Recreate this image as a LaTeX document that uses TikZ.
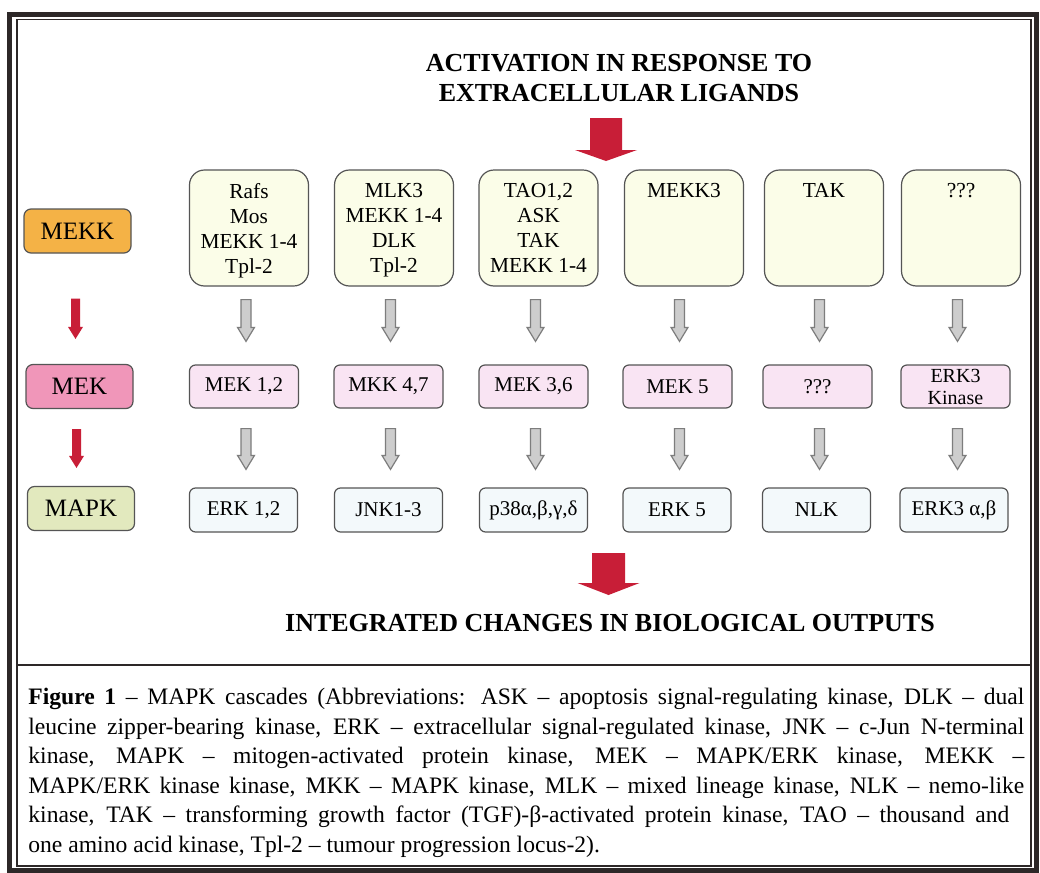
\documentclass[tikz,border=0pt]{standalone}
\usepackage{fontspec}
\setmainfont{Liberation Serif}
\usetikzlibrary{calc}
\definecolor{framec}{RGB}{45,40,40}
\definecolor{mekkc}{RGB}{244,178,70}
\definecolor{mekc}{RGB}{240,150,185}
\definecolor{mapkc}{RGB}{226,233,190}
\definecolor{topc}{RGB}{251,253,232}
\definecolor{midc}{RGB}{249,228,243}
\definecolor{botc}{RGB}{243,249,251}
\definecolor{boxline}{RGB}{85,85,85}
\definecolor{redc}{RGB}{200,30,55}
\definecolor{grayf}{RGB}{205,205,205}
\definecolor{grayl}{RGB}{125,125,125}
\newcommand\mkarrow[6]{%
  \path[#1] let \p1=(#2), \p2=(#3) in
    (\x1-#4,\y1) -- (\x1+#4,\y1) -- (\x1+#4,\y2+#6) -- (\x1+#5,\y2+#6)
    -- (\x1,\y2) -- (\x1-#5,\y2+#6) -- (\x1-#4,\y2+#6) -- cycle;}
\begin{document}
\begin{tikzpicture}[x=0.5pt,y=-0.5pt,
  topbox/.style={draw=boxline, fill=topc, rounded corners=7.5pt, minimum width=59.5pt, minimum height=58pt, line width=0.6pt, inner sep=0pt},
  toptext/.style={anchor=north, inner sep=0pt, align=center, font=\fontsize{10.7}{12.5}\selectfont},
  midbox/.style={draw=boxline, fill=midc, rounded corners=3pt, minimum width=54.5pt, minimum height=21.5pt, line width=0.6pt, font=\fontsize{10.5}{12}\selectfont, align=center, inner sep=1pt},
  botbox/.style={draw=boxline, fill=botc, rounded corners=3pt, minimum width=54pt, minimum height=22pt, line width=0.6pt, font=\fontsize{10.5}{12}\selectfont, align=center, inner sep=1pt},
  lab/.style={draw=boxline, rounded corners=3.5pt, minimum width=53.5pt, minimum height=22pt, font=\fontsize{12.5}{14}\selectfont, line width=0.6pt, inner sep=1pt},
  redarr/.style={fill=redc},
  grayarr/.style={fill=grayf, draw=grayl, line width=0.6pt},
  heading/.style={font=\bfseries\fontsize{13}{15}\selectfont, align=center, inner sep=0pt}
]
\useasboundingbox (0,0) rectangle (1040,873);
\fill[white] (0,0) rectangle (1040,873);
% frame
\draw[framec, line width=2.5pt] (9.5,14.5) rectangle (1036,870);
\draw[framec, line width=0.7pt] (17,19.5) rectangle (1031,866);
\draw[framec, line width=1.3pt] (17,665) -- (1031,665);

% title
\node[heading, anchor=north] (act) at (619,53.5) {ACTIVATION IN RESPONSE TO\\EXTRACELLULAR LIGANDS};
\coordinate (in1) at (606,118);
\coordinate (in2) at (606,161);
\mkarrow{redarr}{in1}{in2}{8pt}{15.5pt}{5.5pt}

% left labels
\node[lab, fill=mekkc] (mekk) at (77.5,231) {MEKK};
\node[lab, fill=mekc] (mek) at (79.5,386.5) {MEK};
\node[lab, fill=mapkc] (mapk) at (81,508.5) {MAPK};
\mkarrow{redarr}{$(mekk.south)+(-2,45)$}{$(mek.north)+(0,-25)$}{2.25pt}{3.75pt}{6pt}
\mkarrow{redarr}{$(mek.south)+(-3,20)$}{$(mapk.north)+(0,-18)$}{2.25pt}{3.75pt}{6pt}

% top row (MEKK)
\node[topbox] (t1) at (249,228) {};
\node[topbox] (t2) at (394,228) {};
\node[topbox] (t3) at (538.5,228) {};
\node[topbox] (t4) at (684,228) {};
\node[topbox] (t5) at (824,228) {};
\node[topbox] (t6) at (961,228) {};
\node[toptext] (tt1) at ($(t1.north)+(0,13.5)$) {Rafs\\Mos\\MEKK 1-4\\Tpl-2};
\node[toptext] (tt2) at ($(t2.north)+(0,13.5)$) {MLK3\\MEKK 1-4\\DLK\\Tpl-2};
\node[toptext] (tt3) at ($(t3.north)+(0,13.5)$) {TAO1,2\\ASK\\TAK\\MEKK 1-4};
\node[toptext] (tt4) at ($(t4.north)+(0,13.5)$) {MEKK3};
\node[toptext] (tt5) at ($(t5.north)+(0,13.5)$) {TAK};
\node[toptext] (tt6) at ($(t6.north)+(0,13.5)$) {???};

% middle row (MEK)
\node[midbox] (m1) at (244,386.5) {MEK 1,2};
\node[midbox] (m2) at (388.5,386.5) {MKK 4,7};
\node[midbox] (m3) at (533.5,386.5) {MEK 3,6};
\node[midbox] (m4) at (677.5,386.5) {MEK 5};
\node[midbox] (m5) at (817.5,386.5) {???};
\node[midbox, font=\fontsize{10}{11}\selectfont] (m6) at (955.5,386.5) {ERK3\\Kinase};

% bottom row (MAPK)
\node[botbox] (b1) at (243.5,510) {ERK 1,2};
\node[botbox] (b2) at (388.5,510) {JNK1-3};
\node[botbox] (b3) at (533.5,510) {p38α,β,γ,δ};
\node[botbox] (b4) at (677,510) {ERK 5};
\node[botbox] (b5) at (816.5,510) {NLK};
\node[botbox] (b6) at (954,510) {ERK3 α,β};

\foreach \i in {1,...,6}{
  \mkarrow{grayarr}{$(t\i.south -| m\i.north)+(2,13)$}{$(m\i.north)+(0,-23)$}{2.5pt}{4.25pt}{7pt}
  \mkarrow{grayarr}{$(m\i.south)+(2,20)$}{$(b\i.north)+(0,-18)$}{2.5pt}{4.25pt}{7pt}
}

% output
\coordinate (out1) at (608.5,553);
\coordinate (out2) at (608.5,595);
\mkarrow{redarr}{out1}{out2}{8.25pt}{15.5pt}{6pt}
\node[heading] (out) at (610,623) {INTEGRATED CHANGES IN BIOLOGICAL OUTPUTS};

% caption
\node[anchor=north west, inner sep=0pt, text width=498pt, align=justify,
      font=\fontsize{11.8}{14.75}\selectfont] (cap) at (28,688)
{\hyphenpenalty=10000 \textbf{Figure 1} – MAPK cascades (Abbreviations: ASK – apoptosis signal-regulating kinase, DLK – dual\linebreak
leucine zipper-bearing kinase, ERK – extracellular signal-regulated kinase, JNK – c-Jun N-terminal\linebreak
kinase, MAPK – mitogen-activated protein kinase, MEK – MAPK/ERK kinase, MEKK –\linebreak
MAPK/ERK kinase kinase, MKK – MAPK kinase, MLK – mixed lineage kinase, NLK – nemo-like\linebreak
kinase, TAK – transforming growth factor (TGF)-β-activated protein kinase, TAO – thousand and\hspace*{7.5pt}\linebreak
one amino acid kinase, Tpl-2 – tumour progression locus-2).};
\end{tikzpicture}
\end{document}
